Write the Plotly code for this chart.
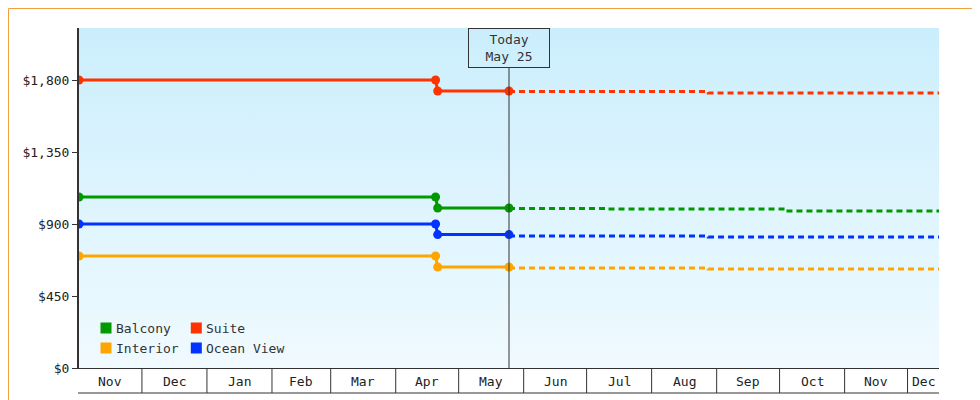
import plotly.graph_objects as go
import pandas as pd

series = ["Balcony", "Suite", "Interior", "Ocean View"]
colors = {"Balcony": "#009900", "Suite": "#ff3300", "Interior": "#ffa500", "Ocean View": "#0033ff"}

# historical (solid) points
hist_dates = ["2022-11-01", "2023-04-20", "2023-04-21", "2023-05-25"]
hist_vals = {
    "Balcony": [1069, 1069, 1000, 1000],
    "Suite": [1800, 1800, 1731, 1731],
    "Interior": [700, 700, 631, 631],
    "Ocean View": [900, 900, 834, 834],
}
# forecast (dotted, stepped)
fc_dates = {
    "Balcony": ["2023-05-25", "2023-07-10", "2023-10-05", "2023-12-16"],
    "Suite": ["2023-05-25", "2023-08-28", "2023-12-16"],
    "Interior": ["2023-05-25", "2023-08-28", "2023-12-16"],
    "Ocean View": ["2023-05-25", "2023-08-28", "2023-12-16"],
}
fc_vals = {
    "Balcony": [997, 994, 981, 981],
    "Suite": [1728, 1719, 1719],
    "Interior": [625, 619, 619],
    "Ocean View": [825, 819, 819],
}
months = ["2022-11-01", "2022-12-01", "2023-01-01", "2023-02-01", "2023-03-01", "2023-04-01",
          "2023-05-01", "2023-06-01", "2023-07-01", "2023-08-01", "2023-09-01", "2023-10-01",
          "2023-11-01", "2023-12-01", "2023-12-16"]
month_labels = ["Nov", "Dec", "Jan", "Feb", "Mar", "Apr", "May", "Jun", "Jul", "Aug", "Sep", "Oct", "Nov", "Dec"]
y_ticks = [0, 450, 900, 1350, 1800]
y_tick_labels = ["$0", "$450", "$900", "$1,350", "$1,800"]
today = "2023-05-25"
x_range = ["2022-11-01", "2023-12-16"]
y_max = 2125

FONT = "DejaVu Sans Mono"
fig = go.Figure()

# gradient background
fig.add_trace(go.Scatter(
    x=[x_range[0], x_range[1], x_range[1], x_range[0], x_range[0]],
    y=[0, 0, y_max, y_max, 0], mode="lines", line=dict(width=0), fill="toself",
    fillgradient=dict(type="vertical", colorscale=[[0, "#f0faff"], [1, "#cbeefc"]]),
    hoverinfo="skip", showlegend=False))

for s in series:
    c = colors[s]
    fig.add_trace(go.Scatter(x=fc_dates[s], y=fc_vals[s], mode="lines",
                             line=dict(color=c, width=3, dash="6px,4px", shape="hv"),
                             showlegend=False))
    fig.add_trace(go.Scatter(x=hist_dates, y=hist_vals[s], mode="lines+markers",
                             line=dict(color=c, width=3), marker=dict(color=c, size=9, symbol="circle"),
                             name=s, showlegend=False))

ms = pd.to_datetime(months)
for i, lab in enumerate(month_labels):
    mid = ms[i] + (ms[i + 1] - ms[i]) / 2
    fig.add_annotation(x=mid, y=-13 / 340, yref="paper", text=lab, showarrow=False,
                       font=dict(family=FONT, size=13, color="#222"), yanchor="middle")

for m in months[1:-1]:
    fig.add_shape(type="line", x0=m, x1=m, y0=0, y1=-25 / 340, yref="paper", line=dict(color="#333", width=1))
fig.add_shape(type="line", x0=-1 / 860, x1=1, y0=-25 / 340, y1=-25 / 340, xref="paper", yref="paper",
              line=dict(color="#333", width=1))

# today line and box
fig.add_shape(type="line", x0=today, x1=today, y0=0, y1=1875, line=dict(color="#333", width=1))
fig.add_annotation(x=today, y=1.0, yref="paper", yanchor="top", text="Today<br>May 25", showarrow=False,
                   font=dict(family=FONT, size=13, color="#333"), bordercolor="#333", borderwidth=1,
                   borderpad=3, bgcolor="rgba(0,0,0,0)", width=74)

# custom legend
leg = [("Balcony", 0.025, 40), ("Suite", 0.13, 40), ("Interior", 0.025, 20), ("Ocean View", 0.13, 20)]
for name, lx, py in leg:
    y = py / 340
    fig.add_shape(type="rect", xref="paper", yref="paper", x0=lx, x1=lx + 11 / 860,
                  y0=y - 5.5 / 340, y1=y + 5.5 / 340, fillcolor=colors[name], line=dict(width=0))
    fig.add_annotation(xref="paper", yref="paper", x=lx + 13 / 860, y=y, xanchor="left", yanchor="middle",
                       text=name, showarrow=False, font=dict(family=FONT, size=13, color="#333"))

# outer border
fig.add_shape(type="rect", xref="paper", yref="paper", x0=-70.5 / 860, x1=1 + 48.5 / 860,
              y0=-39.5 / 340, y1=1 + 19.5 / 340, line=dict(color="#f0a040", width=1))

fig.update_layout(
    width=980, height=400, margin=dict(l=71, r=49, t=20, b=40, autoexpand=False),
    paper_bgcolor="white", plot_bgcolor="white", showlegend=False,
    xaxis=dict(range=x_range, showticklabels=False, showgrid=False, zeroline=False, automargin=False,
               showline=True, linecolor="#333", linewidth=1, ticks=""),
    yaxis=dict(range=[0, y_max], tickvals=y_ticks, ticktext=y_tick_labels, showgrid=False, automargin=False,
               zeroline=False, showline=True, linecolor="#333", linewidth=2, ticks="outside",
               ticklen=5, tickcolor="#333", tickfont=dict(family=FONT, size=13, color="#222")),
)
fig.write_html("out.html")
